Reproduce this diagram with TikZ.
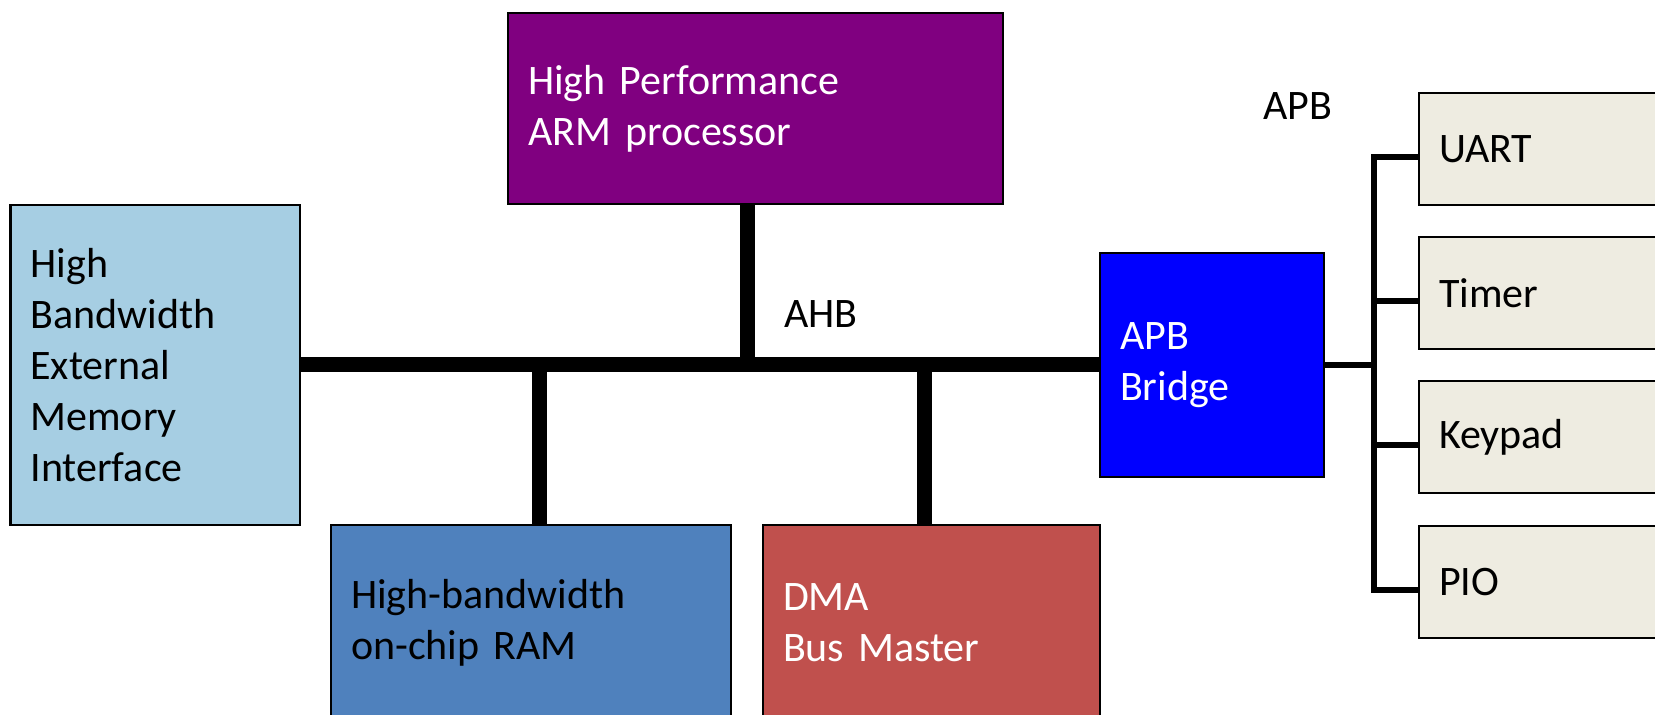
\documentclass[tikz,border=0pt]{standalone}
\usepackage{fontspec}
\setmainfont{Carlito}
\definecolor{cpupurple}{HTML}{800080}
\definecolor{memblue}{HTML}{A6CEE3}
\definecolor{ramblue}{HTML}{4F81BD}
\definecolor{dmared}{HTML}{C0504D}
\definecolor{bridgeblue}{HTML}{0000FF}
\definecolor{periphgray}{HTML}{EEECE1}
\begin{document}
\begin{tikzpicture}[x=0.5pt,y=-0.5pt,
  box/.style={draw=black, line width=1.2pt, inner xsep=10pt, inner ysep=0pt, outer sep=0pt,
    align=left, anchor=north west, font=\fontsize{21}{25.4}\selectfont},
  periph/.style={box, fill=periphgray, minimum width=150pt, minimum height=56pt, text width=130pt},
  bus/.style={line width=7.5pt, black},
  apbline/.style={line width=3pt, black, line join=miter},
  lbl/.style={inner sep=0pt, anchor=base west, font=\fontsize{21}{25.4}\selectfont}]
\useasboundingbox (0,0) rectangle (1655,715);
\clip (0,0) rectangle (1655,715);
\fill[white] (0,0) rectangle (1655,715);

\node[box, fill=cpupurple, text=white, minimum width=247.5pt, minimum height=95.5pt, text width=227.5pt]
  (cpu) at (508,13) {High Performance\\ARM processor};
\node[box, fill=memblue, minimum width=144.75pt, minimum height=160pt, text width=124.75pt]
  (mem) at (10.5,205) {High\\Bandwidth\\External\\Memory\\Interface};
\node[box, fill=ramblue, minimum width=200pt, minimum height=97.5pt, text width=180pt]
  (ram) at (331,525) {High-bandwidth\\on-chip RAM};
\node[box, fill=dmared, text=white, minimum width=168.5pt, minimum height=97.5pt, text width=148.5pt]
  (dma) at (763,525) {DMA\\Bus Master};
\node[box, fill=bridgeblue, text=white, minimum width=112pt, minimum height=112pt, text width=92pt]
  (bridge) at (1100,253) {APB\\Bridge};
\node[periph] (uart) at (1419,93) {UART};
\node[periph] (timer) at (1419,237) {Timer};
\node[periph] (keypad) at (1419,381) {Keypad};
\node[periph] (pio) at (1419,526) {PIO};

\node[lbl] (ahb) at (784,328) {AHB};
\node[lbl] (apb) at (1263,120) {APB};

\coordinate (jcpu) at (747,365);
\coordinate (jram) at (539.5,365);
\coordinate (jdma) at (924,365);
\coordinate (japb) at (1374,365);

\draw[bus] (mem.east) -- (bridge.west);
\draw[bus] (cpu.south -| jcpu) -- (jcpu);
\draw[bus] (ram.north -| jram) -- (jram);
\draw[bus] (dma.north -| jdma) -- (jdma);

\draw[apbline] (bridge.east) -- (japb);
\draw[apbline] ([yshift=-4pt]uart.west) -| (japb) |- ([yshift=-4pt]pio.west);
\draw[apbline] ([yshift=-4pt]timer.west) -- ([yshift=-4pt]timer.west -| japb);
\draw[apbline] ([yshift=-4pt]keypad.west) -- ([yshift=-4pt]keypad.west -| japb);
\end{tikzpicture}
\end{document}
